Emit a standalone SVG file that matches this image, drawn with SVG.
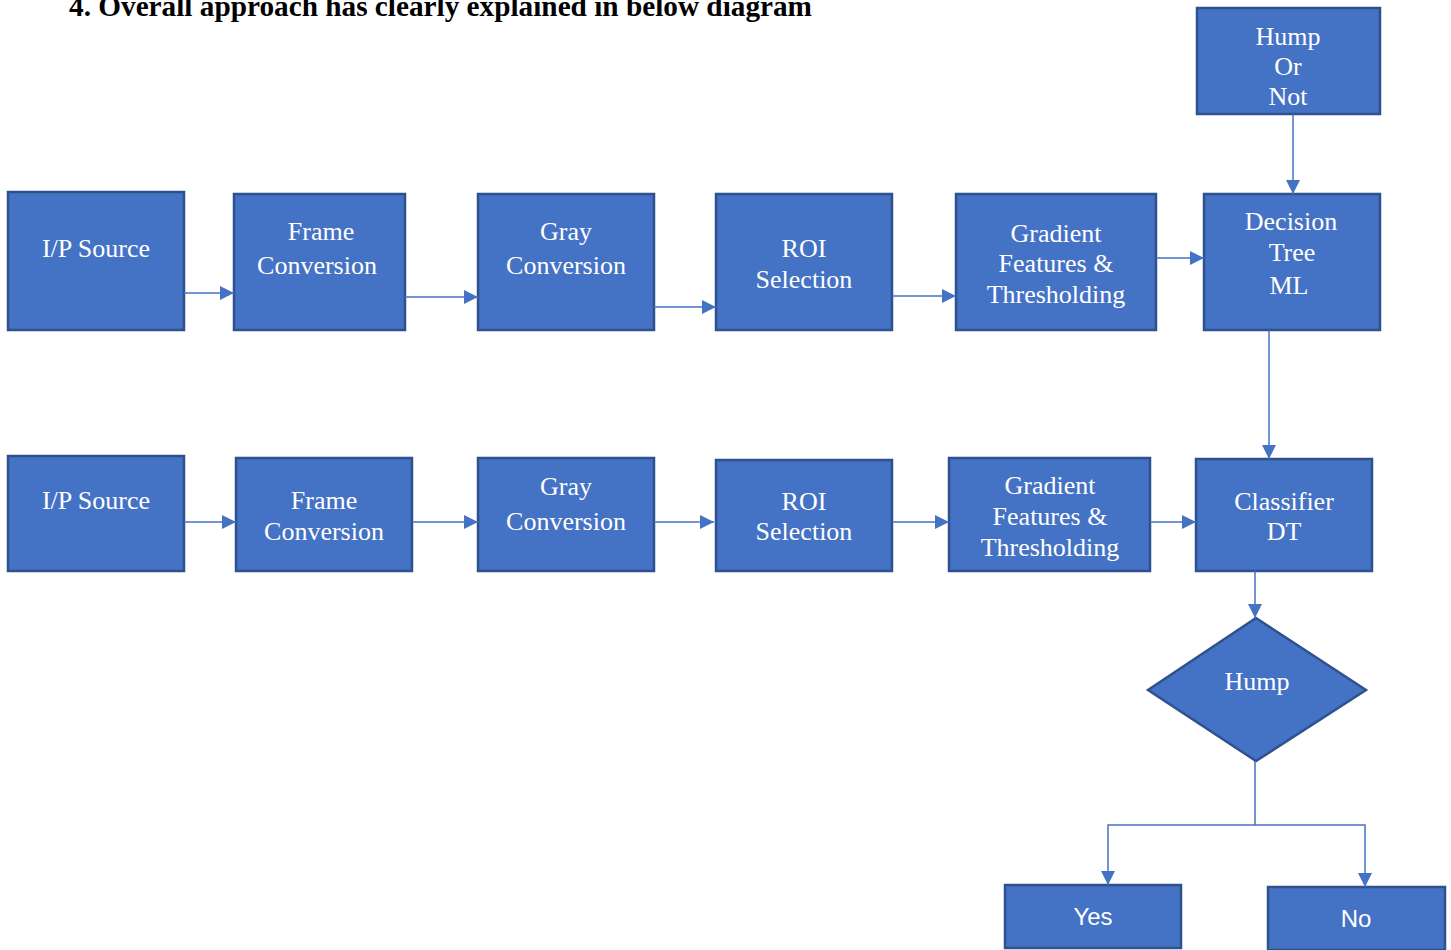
<svg xmlns="http://www.w3.org/2000/svg" width="1451" height="950" viewBox="0 0 1451 950">
<defs>
<marker id="arr" markerUnits="userSpaceOnUse" markerWidth="16" markerHeight="16" refX="14" refY="7" orient="auto">
<path d="M0,0 L14,7 L0,14 z" fill="#4472C4"/>
</marker>
</defs>
<style>
.box{fill:#4472C4;stroke:#2F528F;stroke-width:2.5}
.t{font-family:"Liberation Serif","Times New Roman",serif;font-size:26px;fill:#FFFFFF;text-anchor:middle}
.s{font-family:"Liberation Sans",Arial,sans-serif;font-size:24px;fill:#FFFFFF;text-anchor:middle}
.c{fill:none;stroke:#4472C4;stroke-width:1.5}
.a{marker-end:url(#arr)}
.title{font-family:"Liberation Serif","Times New Roman",serif;font-size:29px;font-weight:bold;fill:#000000}
</style>
<rect width="1451" height="950" fill="#FFFFFF"/>
<text class="title" x="69" y="16" textLength="743" lengthAdjust="spacingAndGlyphs">4. Overall approach has clearly explained in below diagram</text>

<g id="n-ip1"><rect class="box" x="8" y="192" width="176" height="138"/><text class="t" x="96" y="257">I/P Source</text></g>
<g id="n-frame1"><rect class="box" x="234" y="194" width="171" height="136"/><text class="t" x="321" y="240">Frame</text><text class="t" x="317" y="274">Conversion</text></g>
<g id="n-gray1"><rect class="box" x="478" y="194" width="176" height="136"/><text class="t" x="566" y="240">Gray</text><text class="t" x="566" y="274">Conversion</text></g>
<g id="n-roi1"><rect class="box" x="716" y="194" width="176" height="136"/><text class="t" x="804" y="257">ROI</text><text class="t" x="804" y="288">Selection</text></g>
<g id="n-grad1"><rect class="box" x="956" y="194" width="200" height="136"/><text class="t" x="1056" y="242">Gradient</text><text class="t" x="1056" y="272">Features &amp;</text><text class="t" x="1056" y="303">Thresholding</text></g>
<g id="n-dt"><rect class="box" x="1204" y="194" width="176" height="136"/><text class="t" x="1291" y="230">Decision</text><text class="t" x="1292" y="261">Tree</text><text class="t" x="1289" y="294">ML</text></g>
<g id="n-humpornot"><rect class="box" x="1197" y="8" width="183" height="106"/><text class="t" x="1288" y="45">Hump</text><text class="t" x="1288" y="75">Or</text><text class="t" x="1288" y="105">Not</text></g>

<g id="n-ip2"><rect class="box" x="8" y="456" width="176" height="115"/><text class="t" x="96" y="509">I/P Source</text></g>
<g id="n-frame2"><rect class="box" x="236" y="458" width="176" height="113"/><text class="t" x="324" y="509">Frame</text><text class="t" x="324" y="540">Conversion</text></g>
<g id="n-gray2"><rect class="box" x="478" y="458" width="176" height="113"/><text class="t" x="566" y="495">Gray</text><text class="t" x="566" y="530">Conversion</text></g>
<g id="n-roi2"><rect class="box" x="716" y="460" width="176" height="111"/><text class="t" x="804" y="510">ROI</text><text class="t" x="804" y="540">Selection</text></g>
<g id="n-grad2"><rect class="box" x="949" y="458" width="201" height="113"/><text class="t" x="1050" y="494">Gradient</text><text class="t" x="1050" y="525">Features &amp;</text><text class="t" x="1050" y="556">Thresholding</text></g>
<g id="n-cls"><rect class="box" x="1196" y="459" width="176" height="112"/><text class="t" x="1284" y="510">Classifier</text><text class="t" x="1284" y="540">DT</text></g>
<g id="n-hump"><polygon class="box" points="1256,618 1366,690 1256,761 1148,690"/><text class="t" x="1257" y="690">Hump</text></g>
<g id="n-yes"><rect class="box" x="1005" y="885" width="176" height="63"/><text class="s" x="1093" y="925">Yes</text></g>
<g id="n-no"><rect class="box" x="1268" y="887" width="177" height="63"/><text class="s" x="1356" y="927">No</text></g>

<g id="connectors">
<line class="c a" x1="184" y1="293" x2="234" y2="293"/>
<line class="c a" x1="405" y1="297" x2="478" y2="297"/>
<line class="c a" x1="654" y1="307" x2="716" y2="307"/>
<line class="c a" x1="892" y1="296" x2="956" y2="296"/>
<line class="c a" x1="1156" y1="258" x2="1204" y2="258"/>
<line class="c a" x1="1293" y1="114" x2="1293" y2="194"/>
<line class="c a" x1="1269" y1="330" x2="1269" y2="459"/>
<line class="c a" x1="184" y1="522" x2="236" y2="522"/>
<line class="c a" x1="412" y1="522" x2="478" y2="522"/>
<line class="c a" x1="654" y1="522" x2="714" y2="522"/>
<line class="c a" x1="892" y1="522" x2="949" y2="522"/>
<line class="c a" x1="1150" y1="522" x2="1196" y2="522"/>
<line class="c a" x1="1255" y1="571" x2="1255" y2="618"/>
<polyline class="c a" points="1255,761 1255,825 1108,825 1108,885"/>
<polyline class="c a" points="1255,825 1365,825 1365,887"/>
</g>
</svg>
